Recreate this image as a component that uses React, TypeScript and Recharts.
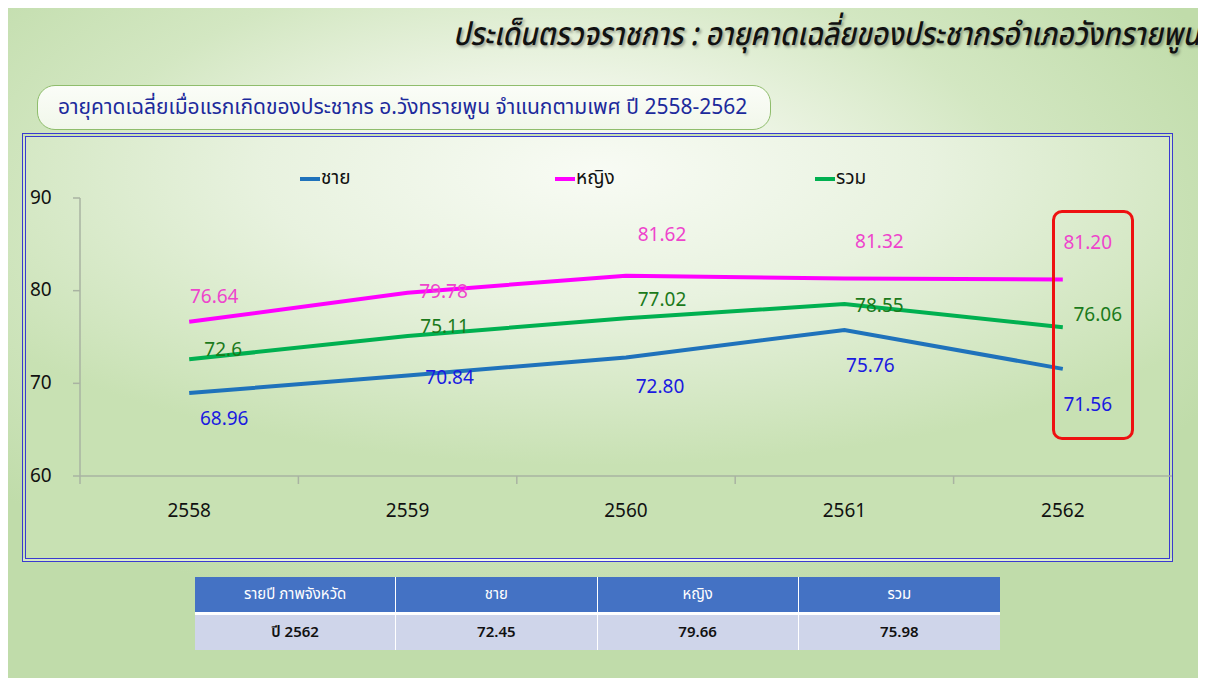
import React from 'react';
import { LineChart, Line, XAxis, YAxis, Legend, LabelList } from 'recharts';

const years = ['2558', '2559', '2560', '2561', '2562'];
const male = [68.96, 70.84, 72.8, 75.76, 71.56];
const female = [76.64, 79.78, 81.62, 81.32, 81.2];
const total = [72.6, 75.11, 77.02, 78.55, 76.06];
const maleText = ['68.96', '70.84', '72.80', '75.76', '71.56'];
const femaleText = ['76.64', '79.78', '81.62', '81.32', '81.20'];
const totalText = ['72.6', '75.11', '77.02', '78.55', '76.06'];
const yTicks = [60, 70, 80, 90];

const seriesNames = ['ชาย', 'หญิง', 'รวม'];
const tableHeader = ['รายปี ภาพจังหวัด', 'ชาย', 'หญิง', 'รวม'];
const tableRow = ['ปี 2562', '72.45', '79.66', '75.98'];

const title = 'ประเด็นตรวจราชการ : อายุคาดเฉลี่ยของประชากรอำเภอวังทรายพูน';
const subtitle = 'อายุคาดเฉลี่ยเมื่อแรกเกิดของประชากร อ.วังทรายพูน จำแนกตามเพศ ปี 2558-2562';

// label offsets (dx, dy) relative to each point – styling only
const maleOff = [[35, 27], [42, 3], [34, 30], [26, 37], [25, 37]];
const femaleOff = [[25, -24], [36, 0], [36, -40], [35, -36], [25, -36]];
const totalOff = [[34, -9], [37, -8], [36, -18], [35, 2], [35, -12]];

const COLORS = { male: '#1f72bb', female: '#ff00ff', total: '#00b050' };
const LABEL_COLORS = { male: '#1a1ae0', female: '#ee44cc', total: '#1b7a1b' };
const AXIS = '#a9b3a2';

const data = years.map((y, i) => ({
  year: y,
  male: male[i],
  female: female[i],
  total: total[i],
}));

const FONT = "'Noto Sans Thai', 'Noto Sans', Tahoma, sans-serif";

const makeLabel = (texts: string[], offs: number[][], color: string) => (props: any) => {
  const { x, y, index } = props;
  const o = offs[index] || [0, 0];
  return (
    <text
      x={x + o[0]}
      y={y + o[1]}
      textAnchor="middle"
      dominantBaseline="central"
      fill={color}
      fontSize={19}
      fontFamily={FONT}
    >
      {texts[index]}
    </text>
  );
};

const XTick = (p: any) => {
  const half = p.payload && typeof p.payload.offset === 'number' && p.payload.offset > 0 ? p.payload.offset : 109.2;
  const bx = p.x - half;
  return (
    <g>
      <line x1={bx} x2={bx} y1={p.y} y2={p.y + 8} stroke={AXIS} strokeWidth={1.5} />
      <text x={p.x} y={p.y + 35} textAnchor="middle" dominantBaseline="central" fontSize={19} fill="#111" fontFamily={FONT}>
        {p.payload.value}
      </text>
    </g>
  );
};

const legendX = [278, 533, 793];
const legendColors = [COLORS.male, COLORS.female, COLORS.total];

const LegendContent = () => (
  <div style={{ position: 'relative', width: 1151, height: 30 }}>
    {seriesNames.map((n, k) => (
      <div
        key={n}
        style={{
          position: 'absolute',
          left: legendX[k],
          top: 0,
          display: 'flex',
          alignItems: 'center',
          fontFamily: FONT,
          fontSize: 19,
          color: '#111',
        }}
      >
        <span style={{ display: 'inline-block', width: 20, height: 4, background: legendColors[k], marginRight: 1 }} />
        <span>{n}</span>
      </div>
    ))}
  </div>
);

export default function App() {
  return (
    <div
      style={{
        position: 'relative',
        width: 1198,
        height: 670,
        overflow: 'hidden',
        fontFamily: FONT,
        background:
          'radial-gradient(ellipse 62% 60% at 45% 32%, #ffffff 0%, #eef5e6 35%, #d3e7c2 65%, #c0dcaa 100%)',
      }}
    >
      <div
        style={{
          position: 'absolute',
          right: 6,
          top: 3,
          fontSize: 32,
          fontStyle: 'italic',
          fontWeight: 500,
          color: '#111',
          textShadow: '2px 2px 3px rgba(0,0,0,0.35)',
          whiteSpace: 'nowrap',
          transform: 'scaleX(0.88)',
          transformOrigin: 'right center',
        }}
      >
        {title}
      </div>

      <div
        style={{
          position: 'absolute',
          left: 29,
          top: 77,
          width: 734,
          height: 45,
          boxSizing: 'border-box',
          border: '1.5px solid #8fbd6c',
          borderRadius: 18,
          background: 'linear-gradient(#fbfdf8, #f1f7ea)',
          display: 'flex',
          alignItems: 'center',
          paddingLeft: 20,
          fontSize: 21,
          color: '#1c2a9c',
          whiteSpace: 'nowrap',
        }}
      >
        {subtitle}
      </div>

      <div
        style={{
          position: 'absolute',
          left: 14,
          top: 125,
          width: 1151,
          height: 429,
          boxSizing: 'border-box',
          border: '4px double #3a3ad0',
          background:
            'radial-gradient(ellipse 65% 70% at 50% 8%, #f8fbf4 0%, #e8f2df 45%, #c8e1b3 100%)',
        }}
      />

      <div style={{ position: 'absolute', left: 14, top: 125 }}>
        <LineChart width={1151} height={429} data={data} margin={{ top: 65, right: 1, left: 0, bottom: 0 }}>
          <XAxis
            dataKey="year"
            scale="band"
            height={86}
            axisLine={{ stroke: AXIS, strokeWidth: 1.5 }}
            tickLine={false}
            tickSize={0}
            tickMargin={0}
            interval={0}
            tick={XTick}
          />
          <YAxis
            width={58}
            domain={[60, 90]}
            ticks={yTicks}
            interval={0}
            tickSize={7}
            axisLine={{ stroke: AXIS, strokeWidth: 1.5 }}
            tickLine={{ stroke: AXIS, strokeWidth: 1.5 }}
            tick={(p: any) => (
              <text x={8} y={p.y} textAnchor="start" dominantBaseline="central" fontSize={19} fill="#111" fontFamily={FONT}>
                {p.payload.value}
              </text>
            )}
          />
          <Legend
            layout="horizontal"
            verticalAlign="middle"
            align="center"
            wrapperStyle={{ top: 31, left: 0, width: 1151, height: 30 }}
            content={() => <LegendContent />}
          />
          <Line
            dataKey="female"
            name={seriesNames[1]}
            stroke={COLORS.female}
            strokeWidth={4}
            dot={false}
            isAnimationActive={false}
          >
            <LabelList dataKey="female" content={makeLabel(femaleText, femaleOff, LABEL_COLORS.female)} />
          </Line>
          <Line
            dataKey="total"
            name={seriesNames[2]}
            stroke={COLORS.total}
            strokeWidth={4}
            dot={false}
            isAnimationActive={false}
          >
            <LabelList dataKey="total" content={makeLabel(totalText, totalOff, LABEL_COLORS.total)} />
          </Line>
          <Line
            dataKey="male"
            name={seriesNames[0]}
            stroke={COLORS.male}
            strokeWidth={4}
            dot={false}
            isAnimationActive={false}
          >
            <LabelList dataKey="male" content={makeLabel(maleText, maleOff, LABEL_COLORS.male)} />
          </Line>
        </LineChart>
      </div>

      <div
        style={{
          position: 'absolute',
          left: 1044,
          top: 202,
          width: 82,
          height: 230,
          boxSizing: 'border-box',
          border: '3px solid #ee1111',
          borderRadius: 10,
        }}
      />

      <table
        style={{
          position: 'absolute',
          left: 187,
          top: 569,
          width: 805,
          borderCollapse: 'separate',
          borderSpacing: 0,
          fontSize: 15,
          fontFamily: FONT,
          tableLayout: 'fixed',
        }}
      >
        <tbody>
          <tr>
            {tableHeader.map((h, k) => (
              <td
                key={h}
                style={{
                  background: '#4472c4',
                  color: '#fff',
                  height: 35,
                  textAlign: 'center',
                  padding: 0,
                  borderRight: k < 3 ? '1.5px solid #fff' : 'none',
                  borderBottom: '3px solid #fff',
                }}
              >
                {h}
              </td>
            ))}
          </tr>
          <tr>
            {tableRow.map((c, k) => (
              <td
                key={k}
                style={{
                  background: '#cfd5ea',
                  color: '#111',
                  height: 35,
                  textAlign: 'center',
                  padding: 0,
                  fontWeight: 600,
                  borderRight: k < 3 ? '1.5px solid #fff' : 'none',
                }}
              >
                {c}
              </td>
            ))}
          </tr>
        </tbody>
      </table>
    </div>
  );
}
